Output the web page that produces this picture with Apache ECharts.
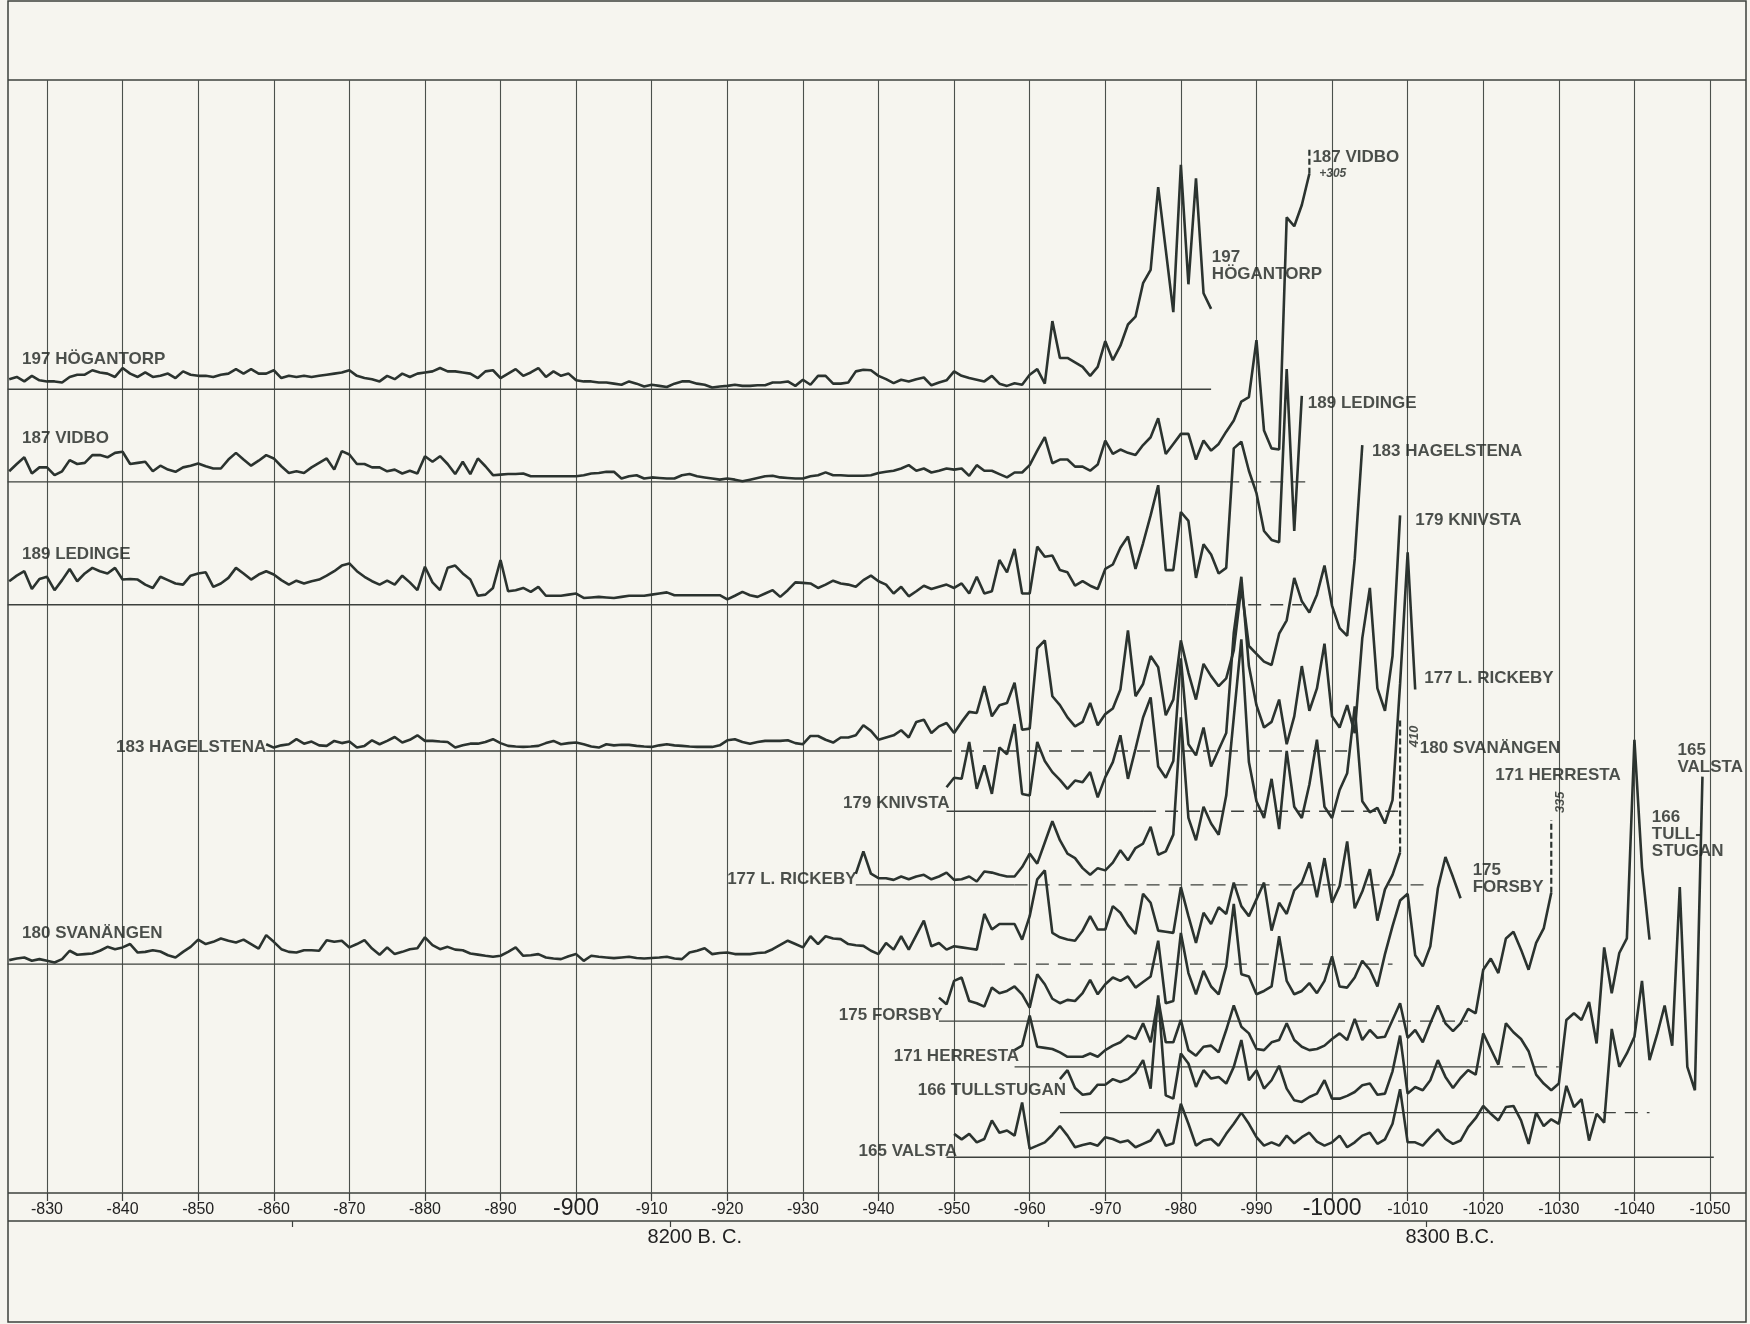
<!DOCTYPE html>
<html>
<head>
<meta charset="utf-8">
<script src="https://cdn.jsdelivr.net/npm/echarts@6/dist/echarts.min.js"></script>
<style>
html,body{margin:0;padding:0;background:#f6f5ef;}
#chart{width:1750px;height:1324px;}
</style>
</head>
<body>
<div id="chart"></div>
<script>
"use strict";

// varve thickness curves, one value a year, first value at startYears[i]
const hogantorp = [
	9, 11, 7, 12, 8, 7, 7, 6, 11, 13,
	13, 17, 15, 14, 11, 19, 14, 11, 15, 11,
	12, 14, 10, 16, 13, 12, 12, 11, 13, 14,
	18, 14, 18, 14, 14, 17, 10, 12, 11, 12,
	11, 12, 13, 14, 15, 17, 12, 10, 9, 7,
	12, 9, 14, 11, 14, 15, 16, 19, 16, 16,
	15, 14, 10, 16, 17, 10, 14, 18, 12, 15,
	19, 11, 16, 12, 14, 8, 7, 7, 6, 6,
	5, 4, 7, 5, 2.5, 4, 3, 2, 5, 7,
	7, 5, 4, 1.5, 2.5, 3, 4, 3, 3, 3.5,
	3.5, 6, 6, 7, 3, 8.5, 4, 12, 12, 5,
	5, 6, 16, 17.5, 17, 12, 9, 5.5, 8.5, 7,
	9, 10.5, 3.5, 6, 8, 16, 12, 10, 8.5, 7,
	12, 5, 3, 5.4, 4, 13, 18, 5, 61, 28,
	28, 24, 20, 12, 20, 43, 26, 39, 58, 65,
	95, 107, 181, 125, 69, 201, 94, 189, 86, 72
];
const vidbo = [
	9.5, 16, 22, 7.5, 13, 13, 6, 9.5, 19.5, 16,
	17, 24, 24, 22, 26, 27, 16, 17, 18, 9.5,
	14.5, 11, 9, 13, 14.5, 16.5, 14, 12, 12, 20,
	26, 20, 14.5, 19, 24, 21, 14, 8, 9.5, 8,
	13, 17, 21, 11, 27.5, 24.5, 16, 16, 13, 13,
	9.5, 11, 7.5, 10, 7.5, 23, 18, 23, 16, 7,
	18, 7, 21, 14, 6, 6.5, 7, 7, 7.5, 5,
	5, 5, 5, 5, 5, 5, 6, 7.5, 8, 9,
	9, 3, 5, 6, 3, 4, 3.5, 3, 3, 6,
	7, 5, 4, 3, 2, 3, 2, 0.5, 2, 3.5,
	5, 5.5, 4, 3.5, 3, 3, 5, 6, 8.5, 6,
	6, 5.5, 5.5, 5.5, 6, 8, 9, 10, 12, 15,
	10, 12, 8.4, 10, 12, 11, 12, 5.4, 15, 10,
	10, 7, 4, 8.4, 8.4, 15, 28, 40, 16.7, 20,
	20, 13.7, 13.7, 10, 15.5, 37, 25, 29, 26, 24,
	33, 40, 57, 25, 34, 43, 43, 20, 37, 28,
	34, 45, 55, 72, 76, 127, 46, 30, 29, 237,
	229, 248, 276
];
const ledinge = [
	21, 26, 30, 14, 23, 25, 13, 22, 32, 21,
	28, 33, 30, 28, 33, 22.5, 23, 22.5, 18, 15,
	25, 22, 19, 18, 26, 28, 29, 16, 19, 24,
	33, 28, 22.5, 27, 30, 27, 22, 18, 21.5, 19,
	21, 22.5, 26, 30, 35, 37, 30, 25, 21, 18,
	21.5, 18, 26, 20, 13, 34, 20, 13, 33, 35,
	28, 22.5, 8, 9, 15, 40, 12, 13, 15, 11.5,
	16, 8, 8, 8, 9, 10, 6, 6.5, 7, 6.5,
	6, 7, 8, 8, 8, 9, 10, 11, 8.5, 8.5,
	8.5, 8.5, 8.5, 8.5, 8.5, 4.7, 8, 11.5, 8.5, 7,
	10, 13, 7, 13, 20, 19.5, 19, 15, 18, 21.5,
	19, 18, 16, 22, 26, 21, 18, 10, 16, 7.5,
	12, 17, 14, 16, 18, 15, 19, 10, 25, 10,
	12, 40, 29, 50, 10, 10, 52, 43, 44, 31,
	29, 17, 21, 17, 14, 32, 36, 51, 61, 32,
	55, 80, 107, 31, 31, 83, 75, 24, 54, 45,
	28, 33, 140, 146, 120, 100, 66, 58, 56, 211,
	66, 187
];
const hagelstena = [
	6, 3, 5, 6, 10.5, 6.5, 8.4, 5, 4.5, 9,
	7, 8.4, 3, 4.5, 9.5, 6, 9, 12.5, 7.5, 10,
	14, 9, 9, 8.4, 8, 3, 5, 6.5, 6.5, 8,
	10.5, 7, 4.5, 4, 3.6, 4, 4.5, 7, 9, 6,
	7, 7.5, 6, 4, 3, 6, 5, 5.5, 5.4, 4.5,
	4, 3.6, 5, 6, 5, 4.5, 4, 3.6, 3.6, 3.6,
	5, 9.5, 10.5, 8, 6.5, 8, 9, 9, 9, 9.5,
	7, 6, 13.4, 13.4, 10, 7.5, 12, 12, 14, 23,
	18, 10, 12, 14, 18.5, 12, 26, 28, 16, 22,
	25, 16, 26, 35, 34, 58, 31, 41, 43, 61,
	19, 20, 92, 99, 49, 41, 30, 22, 26, 43,
	23, 33, 38, 55, 108, 49, 60, 85, 75, 32,
	46, 99, 70, 46, 78, 67, 58, 65, 90, 147,
	94, 87, 80, 77, 105, 117, 155, 134, 124, 140,
	166, 130, 110, 103, 172, 274
];
const knivsta = [
	21.5, 30, 29, 62, 20, 41, 15.5, 57, 51, 78,
	15.5, 14, 62, 45, 35, 28, 20, 27.5, 26, 35,
	12.5, 30.5, 44, 68, 29, 56, 84, 102, 40, 30,
	45, 137, 60, 50, 75, 40, 55, 70, 160, 210,
	130, 95, 75, 80, 100, 60, 85, 130, 90, 110,
	150, 85, 75, 95, 70, 155, 200, 110, 90, 139,
	265
];
const rickeby = [
	10, 30, 10, 6, 6, 4.5, 7.5, 5, 7.5, 9,
	5, 7.5, 11, 4.5, 5, 7.5, 3, 12, 11, 9,
	7.5, 7.5, 16, 28, 19, 38, 57, 40, 28, 24,
	15, 9, 15, 13, 20, 31, 22, 33, 37, 52,
	27, 30, 45, 150, 60, 40, 70, 55, 45, 80,
	150, 220, 110, 75, 60, 95, 50, 120, 70, 60,
	90, 130, 70, 60, 85, 100, 160, 75, 65, 69,
	55, 76, 180, 298, 175
];
const svanangen = [
	3.6, 5, 6, 3, 4.5, 3, 1.5, 4.5, 12, 8.4,
	9, 9.5, 12, 15.5, 13.4, 15, 18, 10.4, 11, 12.5,
	11.3, 8, 6, 11, 15.5, 22, 18, 20, 23, 21,
	19.4, 22, 18, 14, 26, 20, 13.4, 11, 10.4, 12.5,
	12.5, 12, 21.5, 20, 21, 15, 18, 21.5, 14, 8.4,
	15, 9, 11, 13.4, 14.3, 24, 17, 13.4, 15.5, 13,
	12.5, 9.5, 8.5, 7.5, 6.6, 7.5, 11, 15, 7.5, 8,
	9, 6, 5, 4.5, 7, 9, 3, 7.5, 6.6, 6,
	5.4, 6, 6.6, 5.5, 5, 5.5, 6, 6.6, 5, 4.5,
	10.4, 12, 14.3, 9, 10, 10.4, 9, 9, 9, 10,
	10.4, 13.4, 17.3, 21, 18, 15, 25, 18, 25, 23,
	22.4, 18, 17, 16.4, 12, 9, 19, 13, 25, 13,
	26, 39, 16, 19, 13, 16, 15, 14, 13, 45,
	31, 36, 36, 36, 22, 43, 76, 84, 28, 24,
	22, 21, 30, 43, 31, 31, 52, 46, 35, 27,
	63, 55, 30, 29, 28, 69, 43, 19, 46, 36,
	51, 45, 73, 52, 43, 58, 73, 30, 55, 45,
	66, 73, 91, 60, 95, 55, 70, 110, 50, 65,
	85, 39, 67, 80, 100
];
const forsby = [
	21, 15, 36, 39, 18, 16, 13, 30, 25, 27,
	31, 24, 12, 42, 33, 20, 16, 19, 18, 25,
	37, 24, 33, 39, 36, 40, 30, 35, 40, 72,
	16, 18, 79, 43, 24, 45, 31, 24, 49, 105,
	42, 40, 24, 27, 31, 76, 36, 24, 27, 34,
	25, 36, 58, 31, 30, 39, 54, 46, 31, 60,
	85, 108, 114, 59, 49, 67, 119, 147, 129, 110
];
const herresta = [
	15, 19, 46, 18, 17, 16, 13, 9, 9, 9,
	12, 9, 15, 19, 22, 28, 25, 39, 22, 61,
	22, 22, 42, 15, 10, 18, 19, 13, 33, 55,
	36, 30, 16, 15, 22, 24, 39, 24, 18, 15,
	16, 19, 25, 30, 24, 43, 24, 33, 26, 27,
	42, 57, 26, 33, 22, 39, 55, 39, 32, 39,
	52, 48, 87, 97, 84, 115, 121, 105, 87, 111,
	124, 156
];
const tullstugan = [
	30, 38, 22, 16, 17, 25, 25, 30, 27.5, 30,
	36, 47, 21.5, 105, 15.5, 12.5, 53, 44, 23, 38,
	30.5, 32, 26, 41, 65, 29, 38, 21.5, 29, 42,
	21.5, 11, 9.6, 14, 17, 29, 12.5, 12.5, 15, 18.5,
	24.5, 26, 16, 17, 37, 69, 17, 23, 20, 29,
	47, 32, 22, 31, 38, 34, 71, 57, 43, 80,
	72, 66, 55, 34, 26, 20, 26, 83, 89, 83,
	99, 62, 148, 107, 143, 156, 334, 220, 155
];
const valsta = [
	21, 16, 21, 13.4, 16.4, 33, 22, 24, 19.4, 49,
	7.5, 10.4, 13.4, 20, 28, 19.4, 9, 11, 12.5, 10.4,
	18, 16.4, 13.4, 15, 9, 12, 15, 25, 10.4, 12.5,
	48, 30, 10.4, 15, 16.4, 10.4, 21, 30, 40, 30,
	18, 10.4, 13.4, 10.4, 19.4, 12.5, 18, 22, 14, 10.4,
	13.4, 19.4, 9, 13.4, 19.4, 22, 12, 16, 30, 61,
	13.4, 13.4, 10.4, 18, 25, 16.4, 12, 15, 27, 35,
	46, 39, 33, 45, 46, 33, 12, 40, 28, 34,
	30, 64, 45, 52, 15, 39, 31, 115, 81, 93,
	108, 158, 87, 110, 136, 100, 242, 81, 60, 341
];

const curves = [hogantorp, vidbo, ledinge, hagelstena, knivsta, rickeby, svanangen, forsby, herresta, tullstugan, valsta];
const startYears = [825, 825, 825, 859, 949, 937, 825, 948, 958, 964, 950];
// zero line of each curve, and how far it runs (solid part, then dashed)
const levels = [720, 637, 527, 396, 342, 276, 205, 154, 113, 72, 32];
const baseFrom = [824.8, 824.8, 824.8, 859, 949, 937, 824.8, 948, 958, 964, 949];
const baseSolidTo = [984, 986, 986, 948, 975, 958, 955, 1000, 1018, 1030, 1050.5];
const baseTo = [984, 997, 996, 1002, 1009, 1013, 1008, 1018, 1030, 1042, 1050.5];

// values running off the top, drawn dashed
const breakSite = [1, 6, 8];
const breakYear = [997, 1009, 1029];
const breakFrom = [276, 100, 156];
const breakTo = [300, 219, 221];

const labelTexts = [
	"197 HÖGANTORP", "187 VIDBO", "189 LEDINGE", "183 HAGELSTENA", "179 KNIVSTA",
	"177 L. RICKEBY", "180 SVANÄNGEN", "175 FORSBY", "171 HERRESTA", "166 TULLSTUGAN", "165 VALSTA",
	"197\nHÖGANTORP", "187 VIDBO", "+305", "189 LEDINGE", "183 HAGELSTENA", "179 KNIVSTA",
	"177 L. RICKEBY", "180 SVANÄNGEN", "171 HERRESTA", "175\nFORSBY", "166\nTULL-\nSTUGAN",
	"165\nVALSTA", "410", "335"
];
const labelYears = [
	826.7, 826.7, 826.7, 859.0, 949.4, 937.1, 826.7, 948.5, 958.6, 964.8, 950.4,
	984.1, 997.4, 998.3, 996.8, 1005.3, 1011.0, 1012.2, 1011.6, 1021.6, 1018.6, 1042.3,
	1045.7, 1010.9, 1030.2
];
const labelLevels = [
	747, 676, 572, 399, 349, 281, 233, 159, 122, 92, 37,
	831, 928, 913, 707, 664, 603, 461, 398, 374, 281, 321,
	389, 409, 350
];

const ink = "#2b332f";
const frame = "#3c403d";
const labelFont = "'Liberation Sans', Arial, sans-serif";
const axisFont = "'Liberation Sans Narrow', 'Liberation Sans', Arial, sans-serif";

const myChart = echarts.init(document.getElementById("chart"));
const series = [];

curves.forEach((vals, i) => {
	series.push({
		type: "line",
		data: vals.map((v, k) => [-(startYears[i] + k), levels[i] + v]),
		symbol: "none",
		lineStyle: {color: ink, width: 2.6},
		z: 4
	});
	series.push({
		type: "line",
		data: [[-baseFrom[i], levels[i]], [-baseSolidTo[i], levels[i]]],
		symbol: "none",
		lineStyle: {color: frame, width: 1.4},
		z: 3
	});
	if (baseTo[i] > baseSolidTo[i]) {
		series.push({
			type: "line",
			data: [[-baseSolidTo[i], levels[i]], [-baseTo[i], levels[i]]],
			symbol: "none",
			lineStyle: {color: frame, width: 1.4, type: [13, 9]},
			z: 3
		});
	}
});

breakSite.forEach((s, j) => {
	series.push({
		type: "line",
		data: [[-breakYear[j], levels[s] + breakFrom[j]], [-breakYear[j], levels[s] + breakTo[j]]],
		symbol: "none",
		lineStyle: {color: ink, width: 2.2, type: [6, 3]},
		z: 4
	});
});

const labelData = labelTexts.map((t, i) => {
	const item = {value: [-labelYears[i], labelLevels[i], t], label: {}};
	if (i >= 3 && i <= 10 && i !== 6) item.label.align = "right";
	if (t === "+305") {
		item.label.fontStyle = "italic";
		item.label.fontSize = 12;
	}
	if (t === "410" || t === "335") {
		item.label.align = "center";
		item.label.rotate = 90;
		item.label.fontSize = 13;
		item.label.fontStyle = "italic";
	}
	return item;
});

series.push({
	type: "scatter",
	data: labelData,
	symbolSize: 0,
	silent: true,
	z: 6,
	label: {
		show: true,
		position: "inside",
		align: "left",
		verticalAlign: "middle",
		formatter: (p) => p.value[2],
		color: "#1f2421",
		fontFamily: labelFont,
		fontWeight: "bold",
		fontSize: 17,
		lineHeight: 17
	}
});

const option = {
	backgroundColor: "#f6f5ef",
	animation: false,
	grid: {left: -28.6, width: 1814.2, top: 80, height: 1113, containLabel: false, outerBoundsMode: "none"},
	xAxis: [{
		type: "value",
		min: -1060,
		max: -820,
		interval: 10,
		inverse: true,
		axisLine: {show: false},
		axisTick: {show: true, length: 8, lineStyle: {color: frame, width: 1.2}},
		splitLine: {show: true, lineStyle: {color: "#4b504c", width: 1.1}},
		axisLabel: {
			margin: 9,
			color: "#222",
			fontFamily: axisFont,
			fontSize: 16,
			formatter: (v) => {
				if (v === -820 || v === -1060) return "";
				if (v === -900 || v === -1000) return "{big|" + v + "}";
				return "" + v;
			},
			rich: {big: {fontSize: 23, fontFamily: axisFont, color: "#222", padding: [-5, 0, 0, 0]}}
		}
	}, {
		type: "value",
		min: -1060,
		max: -820,
		inverse: true,
		position: "bottom",
		offset: 28,
		axisLine: {show: false},
		splitLine: {show: false},
		axisTick: {show: true, length: 6, customValues: [-862.5, -912.5, -962.5, -1012.5], lineStyle: {color: frame, width: 1.2}},
		axisLabel: {
			show: true,
			customValues: [-915.7, -1015.6],
			margin: 6,
			color: "#222",
			fontFamily: axisFont,
			fontSize: 20,
			formatter: (v) => (v > -960 ? "8200 B. C." : "8300 B.C.")
		}
	}],
	yAxis: {type: "value", min: 0, max: 997, show: false},
	graphic: [
		{type: "rect", silent: true, shape: {x: 8, y: 1, width: 1738, height: 1321}, style: {fill: null, stroke: frame, lineWidth: 1.5}},
		{type: "line", silent: true, shape: {x1: 8, y1: 80, x2: 1746, y2: 80}, style: {stroke: frame, lineWidth: 1.4}},
		{type: "line", silent: true, shape: {x1: 8, y1: 1193, x2: 1746, y2: 1193}, style: {stroke: frame, lineWidth: 1.4}},
		{type: "line", silent: true, shape: {x1: 8, y1: 1221, x2: 1746, y2: 1221}, style: {stroke: frame, lineWidth: 1.4}}
	],
	series: series
};

myChart.setOption(option);
</script>
</body>
</html>
